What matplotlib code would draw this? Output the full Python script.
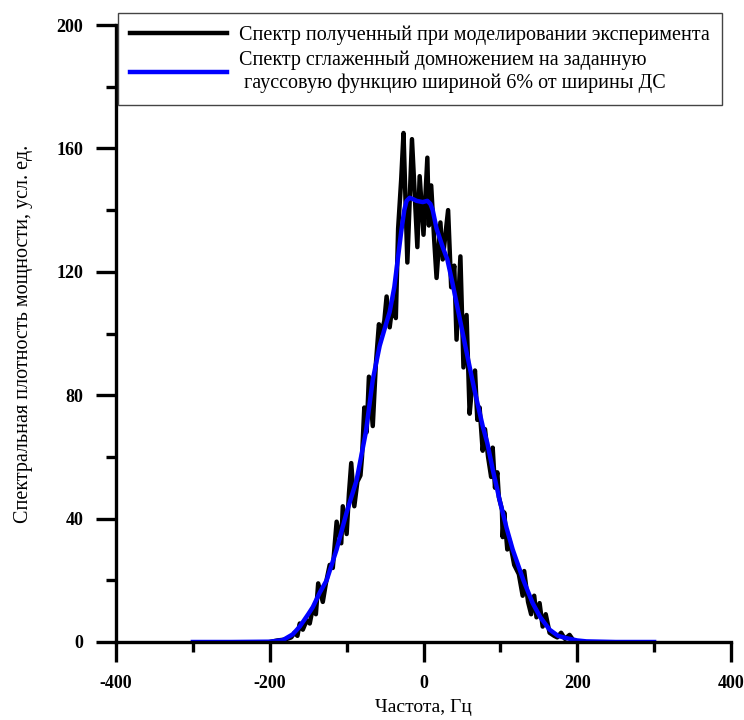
import numpy as np
import matplotlib
matplotlib.use("Agg")
import matplotlib.pyplot as plt
from matplotlib.ticker import MultipleLocator

plt.rcParams['font.family'] = ['Liberation Serif', 'DejaVu Serif']
plt.rcParams['axes.unicode_minus'] = False

# raw spectrum
raw_x = [-200, -190, -180, -172, -168, -164, -161, -157, -152, -148, -144, -140,
         -137, -131, -127, -122, -118, -113, -107, -105, -100, -97, -94, -90,
         -86, -82, -80, -77, -74, -71, -66, -62, -58, -55, -51, -48, -44, -40,
         -36, -33, -29, -26, -21, -15, -8, -5, 0, 5, 7, 10, 14, 17, 22, 25, 32,
         36, 40, 43, 48, 52, 56, 60, 64, 67, 70, 73, 77, 80, 84, 88, 90, 93, 96,
         98, 102, 103, 105, 109, 112, 118, 124, 129, 131, 136, 140, 144, 147,
         151, 155, 159, 164, 170, 174, 179, 184, 190, 195, 200]
raw_y = [0, 0.5, 0.8, 1.5, 3, 2, 6, 4, 7, 6, 11, 9,
         19, 13, 19, 25, 24, 39, 32, 44, 35, 48, 58, 44,
         52, 54, 60, 76, 68, 86, 70, 90, 103, 100, 104, 112, 102, 110,
         105, 134, 150, 165, 123, 163, 128, 151, 132, 157, 135, 148, 130, 118, 136, 124, 140,
         115, 122, 98, 125, 89, 106, 74, 85, 88, 72, 76, 62, 69, 60, 53.5, 63, 50, 55,
         47, 43, 34, 42, 30, 33, 25, 22, 15, 23, 13, 9, 15, 8,
         12.6, 5, 9, 3, 2, 1.5, 3, 1, 2.3, 0.5, 0]

# smoothed spectrum
smooth_x = [-300, -250, -200, -183, -170, -161, -150, -144, -135, -126, -113, -100,
            -87, -75, -66, -57, -50, -44, -38, -34, -29, -25, -22, -18, -13, -9,
            -1, 5, 9, 12, 17, 25, 31, 38, 47, 56, 66, 77, 83, 90, 99, 108, 116,
            130, 142, 152, 164, 175, 185, 200, 212, 250, 300]
smooth_y = [0, 0, 0.1, 0.6, 2.5, 5, 9, 11.3, 16, 20, 30, 42,
            52.5, 68, 85, 96, 102, 107, 115, 123, 133, 140, 143, 144, 143.5, 143,
            142.6, 143, 142, 140, 134, 128, 124, 116, 105, 94, 82, 70, 64.5, 56, 46, 37, 30,
            20, 12.6, 8, 4, 2, 1.3, 0.5, 0.2, 0, 0]

labels = ['Спектр полученный при моделировании эксперимента',
          'Спектр сглаженный домножением на заданную\n гауссовую функцию шириной 6% от ширины ДС']

fig = plt.figure(figsize=(7.44, 7.2), dpi=100)
ax = fig.add_axes([116 / 744, 78 / 720, 615 / 744, 617 / 720])

ax.plot(raw_x, raw_y, color='black', lw=3.2, label=labels[0], solid_joinstyle='round')
ax.plot(smooth_x, smooth_y, color='#0000ff', lw=3.2, label=labels[1])

ax.set_xlim(-400, 400)
ax.set_ylim(0, 200)
ax.xaxis.set_major_locator(MultipleLocator(200))
ax.xaxis.set_minor_locator(MultipleLocator(100))
ax.yaxis.set_major_locator(MultipleLocator(40))
ax.yaxis.set_minor_locator(MultipleLocator(20))

for s in ['top', 'right']:
    ax.spines[s].set_visible(False)
for s in ['left', 'bottom']:
    ax.spines[s].set_linewidth(2.4)

ax.tick_params(which='major', direction='out', length=14.5, width=2.4, pad=9)
ax.tick_params(which='minor', direction='out', length=7.5, width=2.4)
for lab in ax.get_xticklabels() + ax.get_yticklabels():
    lab.set_fontweight('bold')
    lab.set_fontsize(13)

ax.set_xlabel('Частота, Гц', fontsize=14, labelpad=5)
ax.set_ylabel('Спектральная плотность мощности, усл. ед.', fontsize=14.5, labelpad=17)

leg = fig.legend(loc='upper left', bbox_to_anchor=(118 / 744, 1 - 13 / 720),
                 fontsize=14.5, frameon=True, fancybox=False, framealpha=1,
                 edgecolor='#444444', handlelength=4.8, handletextpad=0.6,
                 borderpad=0.6, labelspacing=0.3, borderaxespad=0)
leg.get_frame().set_linewidth(1.0)

fig.savefig('out.png', dpi=100)
